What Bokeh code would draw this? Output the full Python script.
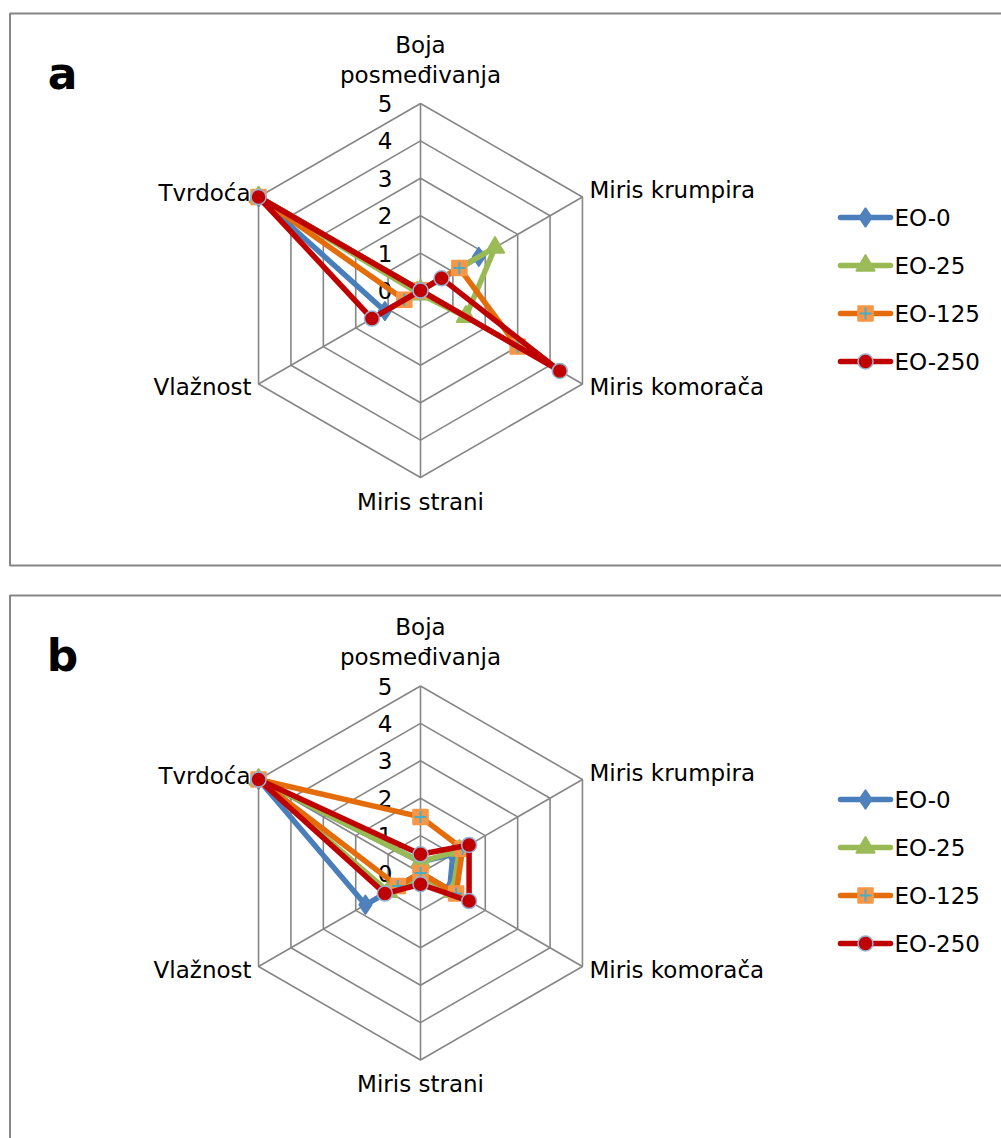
import math
from bokeh.plotting import figure
from bokeh.models import Range1d, ColumnDataSource
from bokeh.core.properties import value
from bokeh.embed import file_html
from bokeh.resources import INLINE

# ---------------- data ----------------
categories = ["Boja posmeđivanja", "Miris krumpira", "Miris komorača",
              "Miris strani", "Vlažnost", "Tvrdoća"]
series_names = ["EO-0", "EO-25", "EO-125", "EO-250"]
tick_labels = ["0", "1", "2", "3", "4", "5"]

# panel a
a_eo0 = [0.0, 1.8, 0.0, 0.0, 1.1, 5.0]
a_eo25 = [0.0, 2.3, 1.4, 0.1, 0.1, 5.0]
a_eo125 = [0.0, 1.2, 3.0, 0.0, 0.5, 5.0]
a_eo250 = [0.0, 0.65, 4.3, 0.0, 1.5, 5.0]

# panel b
b_eo0 = [0.3, 1.0, 0.9, 0.0, 1.7, 5.0]
b_eo25 = [0.3, 1.2, 1.0, 0.1, 1.0, 5.0]
b_eo125 = [1.5, 1.3, 1.1, 0.0, 0.7, 5.0]
b_eo250 = [0.5, 1.5, 1.5, 0.3, 1.1, 5.0]

panels = [("a", [a_eo0, a_eo25, a_eo125, a_eo250]),
          ("b", [b_eo0, b_eo25, b_eo125, b_eo250])]

# ---------------- styles ----------------
FONT = value("DejaVu Sans")
GRID = "#868686"
line_colors = ["#4A7EBB", "#98B954", "#E46C0A", "#C00000"]
marker_fill = ["#4F81BD", "#9BBB59", "#F79646", "#C00000"]
marker_line = ["#4F81BD", "#9BBB59", "#F79646", "#95B3D7"]
marker_type = ["diamond", "triangle", "square", "circle"]
marker_size = [19, 19, 15, 15]

W, H = 1001, 1138
p = figure(width=W, height=H, x_range=Range1d(0, W), y_range=Range1d(H, 0),
           output_backend="svg", toolbar_location=None, min_border=0,
           x_axis_type=None, y_axis_type=None)
p.grid.visible = False
p.outline_line_color = None
p.background_fill_color = "white"

angles = [90, 30, -30, -90, -150, 150]
MAXV = 5.0
R = 187.0
panel_top = [13, 595]
centers = [(420, 290), (420, 872.5)]


def pt(cx, cy, v, ang):
    r = v / MAXV * R
    return cx + r * math.cos(math.radians(ang)), cy - r * math.sin(math.radians(ang))


for pi, (tag, data) in enumerate(panels):
    cx, cy = centers[pi]
    top = panel_top[pi]
    # panel border
    p.quad(left=[9.5], right=[1040], top=[top], bottom=[top + 552],
           fill_color=None, line_color=GRID, line_width=2)
    # panel letter
    p.text(x=[62], y=[top + 60], text=[tag], text_font=FONT, text_font_size="44px",
           text_font_style="bold", text_align="center", text_baseline="middle", color="black")
    # hexagon rings
    xs, ys = [], []
    for k in range(1, 6):
        rx, ry = [], []
        for a in angles + [angles[0]]:
            x, y = pt(cx, cy, k, a)
            rx.append(x); ry.append(y)
        xs.append(rx); ys.append(ry)
    for a in angles:
        x, y = pt(cx, cy, MAXV, a)
        xs.append([cx, x]); ys.append([cy, y])
    p.multi_line(xs, ys, line_color=GRID, line_width=1.6)
    # tick labels
    tx = [cx - 28] * len(tick_labels)
    ty = [pt(cx, cy, float(t), 90)[1] for t in tick_labels]
    p.text(x=tx, y=ty, text=tick_labels, text_font=FONT, text_font_size="23px",
           text_align="right", text_baseline="middle", color="black")
    # category labels
    vx = [pt(cx, cy, MAXV, a) for a in angles]
    lab_x = [vx[0][0], vx[0][0], vx[1][0] + 7, vx[2][0] + 7, vx[3][0], vx[4][0] - 7, vx[5][0] - 8]
    lab_y = [vx[0][1] - 59, vx[0][1] - 29, vx[1][1] - 7, vx[2][1] + 3, vx[3][1] + 24,
             vx[4][1] + 3, vx[5][1] - 4]
    words = categories[0].split(" ")
    lab_t = [words[0], words[1]] + categories[1:]
    lab_al = ["center", "center", "left", "left", "center", "right", "right"]
    for x, y, t, al in zip(lab_x, lab_y, lab_t, lab_al):
        p.text(x=[x], y=[y], text=[t], text_font=FONT, text_font_size="23px",
               text_align=al, text_baseline="middle", color="black")
    # series
    for si, vals in enumerate(data):
        pts = [pt(cx, cy, v, a) for v, a in zip(vals, angles)]
        lx = [q[0] for q in pts] + [pts[0][0]]
        ly = [q[1] for q in pts] + [pts[0][1]]
        p.line(lx, ly, line_color=line_colors[si], line_width=5.5, line_join="round")
        src = ColumnDataSource(dict(x=[q[0] for q in pts], y=[q[1] for q in pts]))
        p.scatter("x", "y", source=src, marker=marker_type[si], size=marker_size[si],
                  fill_color=marker_fill[si], line_color=marker_line[si], line_width=1.5)
        if si == 2:
            p.scatter("x", "y", source=src, marker="cross", size=12,
                      line_color="#4BACC6", line_width=2)
    # legend
    for si, name in enumerate(series_names):
        ly0 = top + 204 + si * 48
        p.line([840, 890], [ly0, ly0], line_color=line_colors[si], line_width=5.5, line_cap="round")
        p.scatter([865], [ly0], marker=marker_type[si], size=marker_size[si],
                  fill_color=marker_fill[si], line_color=marker_line[si], line_width=1.5)
        if si == 2:
            p.scatter([865], [ly0], marker="cross", size=12, line_color="#4BACC6", line_width=2)
        p.text(x=[894], y=[ly0], text=[name], text_font=FONT, text_font_size="23px",
               text_align="left", text_baseline="middle", color="black")

open("out.html", "w").write(file_html(p, INLINE))
